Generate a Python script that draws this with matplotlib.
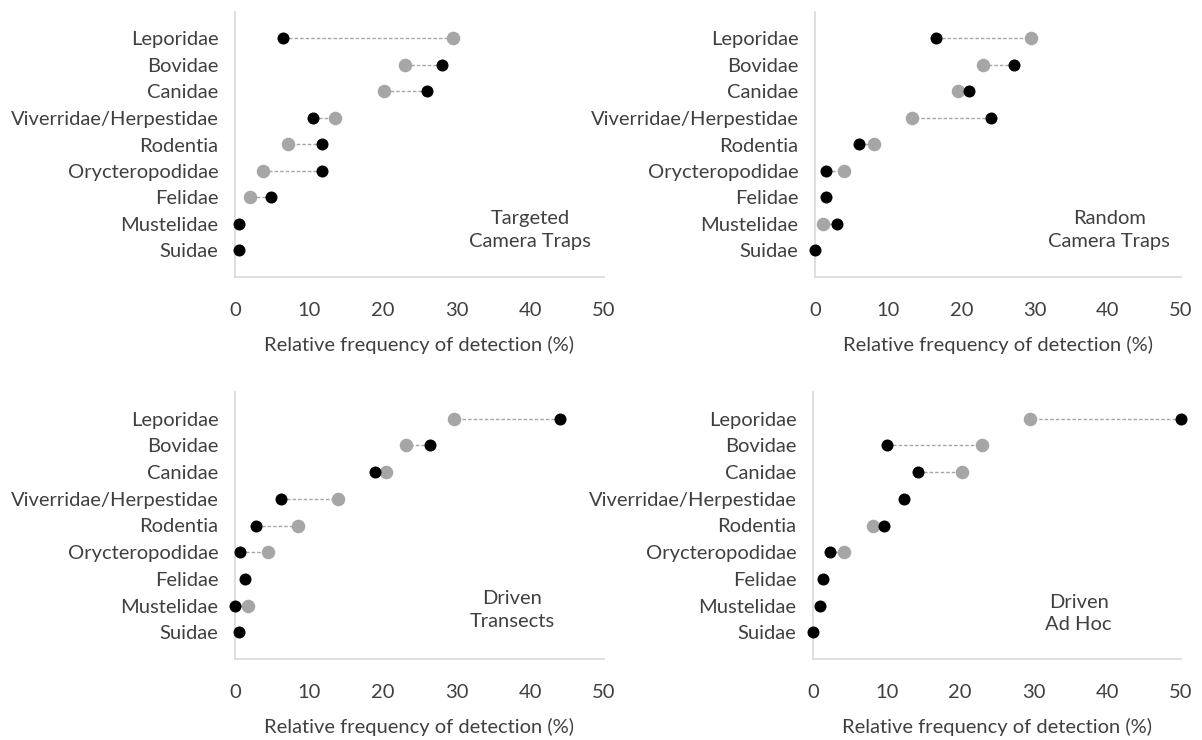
import numpy as np
import matplotlib
matplotlib.use("Agg")
import matplotlib.pyplot as plt

plt.rcParams['font.family'] = ['Lato', 'DejaVu Sans']

categories = ['Leporidae', 'Bovidae', 'Canidae', 'Viverridae/Herpestidae', 'Rodentia',
              'Orycteropodidae', 'Felidae', 'Mustelidae', 'Suidae']
nan = np.nan

targeted_black = [6.5, 28.0, 26.0, 10.6, 11.8, 11.8, 4.9, 0.6, 0.6]
targeted_gray = [29.5, 23.1, 20.2, 13.6, 7.2, 3.8, 2.1, nan, nan]

random_black = [16.5, 27.2, 21.0, 24.1, 6.0, 1.5, 1.5, 3.0, 0.0]
random_gray = [29.5, 22.9, 19.5, 13.3, 8.1, 4.0, nan, 1.1, nan]

transect_black = [44.0, 26.4, 19.0, 6.2, 2.8, 0.7, 1.4, 0.0, 0.5]
transect_gray = [29.7, 23.2, 20.4, 13.9, 8.5, 4.5, nan, 1.8, nan]

adhoc_black = [50.0, 10.0, 14.2, 12.3, 9.6, 2.3, 1.4, 1.0, 0.0]
adhoc_gray = [29.5, 23.0, 20.2, nan, 8.1, 4.2, nan, nan, nan]

panel_titles = ['Targeted\nCamera Traps', 'Random\nCamera Traps', 'Driven\nTransects', 'Driven\nAd Hoc']
xticks = [0, 10, 20, 30, 40, 50]
xlabel = 'Relative frequency of detection (%)'

W, H = 1202, 740
fig = plt.figure(figsize=(W / 100, H / 100), dpi=100)

# axes boxes in pixels: left, right, top, bottom
boxes = [(235, 604, 12, 277), (815, 1181, 12, 277),
         (235, 604, 392, 659), (813, 1181, 392, 659)]
label_pos = [(40.0, 1.77), (40.2, 1.77), (37.6, 1.84), (36.1, 1.70)]
data = [(targeted_black, targeted_gray), (random_black, random_gray),
        (transect_black, transect_gray), (adhoc_black, adhoc_gray)]

TXT = '#404040'
GRAY = '#a6a6a6'
SPINE = '#d9d9d9'
FS = 14.5

ypos = np.arange(len(categories))[::-1] + 1  # Leporidae at 9, Suidae at 1

for (l, r, t, b), (blk, gry), title, (tx, ty) in zip(boxes, data, panel_titles, label_pos):
    ax = fig.add_axes([l / W, (H - b) / H, (r - l) / W, (b - t) / H])
    blk = np.array(blk, dtype=float)
    gry = np.array(gry, dtype=float)
    for y, bv, gv in zip(ypos, blk, gry):
        if not np.isnan(gv):
            ax.plot([bv, gv], [y, y], color=GRAY, lw=1.0, ls=(0, (2.5, 1.5)), zorder=1)
    ax.scatter(gry, ypos, s=95, color=GRAY, zorder=2, clip_on=False, linewidths=0)
    ax.scatter(blk, ypos, s=75, color='black', zorder=3, clip_on=False, linewidths=0)
    ax.set_xlim(0, 50)
    ax.set_ylim(0, 10)
    ax.set_yticks(ypos)
    ax.set_yticklabels(categories)
    ax.set_xticks(xticks)
    ax.tick_params(axis='both', length=0, labelsize=FS, colors=TXT)
    ax.tick_params(axis='x', pad=18)
    ax.tick_params(axis='y', pad=12)
    for s in ['top', 'right']:
        ax.spines[s].set_visible(False)
    for s in ['left', 'bottom']:
        ax.spines[s].set_color(SPINE)
        ax.spines[s].set_linewidth(1.2)
    ax.set_xlabel(xlabel, fontsize=FS, color=TXT, labelpad=12)
    ax.text(tx, ty, title, ha='center', va='center', fontsize=FS, color=TXT, linespacing=1.4)

fig.savefig('out.png', dpi=100, facecolor='white')
